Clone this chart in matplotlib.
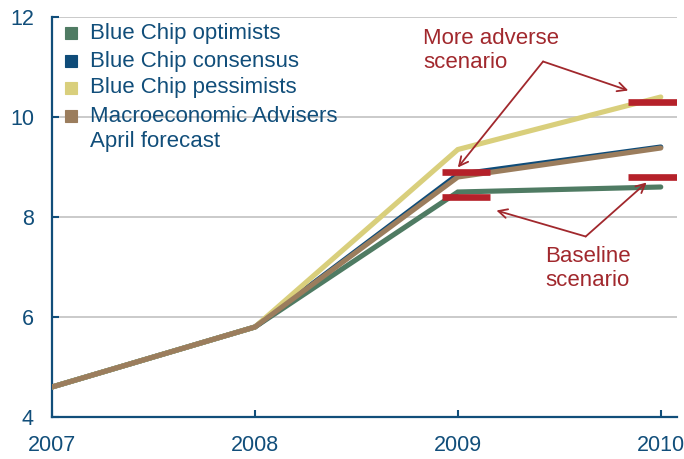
import matplotlib
matplotlib.use("Agg")
import matplotlib.pyplot as plt
from matplotlib.patches import Rectangle

plt.rcParams["font.family"] = ["Liberation Sans", "DejaVu Sans"]

# Forecast paths
years = [2007, 2008, 2009, 2010]
optimists = [4.6, 5.8, 8.5, 8.6]
consensus = [4.6, 5.8, 8.85, 9.4]
pessimists = [4.6, 5.8, 9.35, 10.4]
macro_advisers = [4.6, 5.8, 8.8, 9.38]

series_labels = ["Blue Chip optimists", "Blue Chip consensus",
                 "Blue Chip pessimists", "Macroeconomic Advisers\nApril forecast"]
series_values = [optimists, consensus, pessimists, macro_advisers]
series_colors = ["#4f7b63", "#0f4c79", "#d9cf7c", "#9b7d5d"]

# Scenario levels (bar start on the x axis, level)
baseline_x = [2008.92, 2009.84]
baseline_y = [8.4, 8.8]
adverse_x = [2008.92, 2009.84]
adverse_y = [8.9, 10.3]
bar_width = 0.24

y_ticks = [4, 6, 8, 10, 12]

navy = "#114e7a"
red = "#b5212a"
dark_red = "#a1282d"

fig = plt.figure(figsize=(6.84, 4.59), dpi=100)
ax = fig.add_axes([52 / 684, 42 / 459, 625 / 684, 400 / 459])

ax.set_xlim(2007, 2010.08)
ax.set_ylim(4, 12)
ax.set_yticks(y_ticks)
ax.set_xticks(years)
ax.set_xticklabels([str(y) for y in years])
ax.yaxis.grid(True, color="#c6c6c6", lw=1.3)
ax.set_axisbelow(True)

for side in ("top", "right"):
    ax.spines[side].set_visible(False)
for side in ("left", "bottom"):
    ax.spines[side].set_color(navy)
    ax.spines[side].set_linewidth(1.6)

ax.tick_params(axis="both", direction="in", length=5, width=1.5,
               color=navy, labelcolor=navy, labelsize=15.5)
ax.tick_params(axis="x", pad=13)
ax.tick_params(axis="y", pad=13)

for vals, col in zip(series_values, series_colors):
    ax.plot(years, vals, color=col, lw=3.7, solid_capstyle="round",
            solid_joinstyle="miter", zorder=3)

for xs, ys in ((baseline_x, baseline_y), (adverse_x, adverse_y)):
    for x0, y0 in zip(xs, ys):
        ax.plot([x0, x0 + bar_width], [y0, y0], color=red, lw=4.8,
                solid_capstyle="butt", zorder=4)

# Scenario annotations
arrow = dict(arrowstyle="->", color=dark_red, lw=1.3, mutation_scale=16,
             shrinkA=0, shrinkB=0)
ax.text(2008.83, 11.33, "More adverse\nscenario", color=dark_red,
        fontsize=16, ha="left", va="center", linespacing=1.15)
ax.annotate("", xy=(2009.0, 8.99), xytext=(2009.42, 11.11), arrowprops=arrow)
ax.annotate("", xy=(2009.84, 10.53), xytext=(2009.42, 11.11), arrowprops=arrow)

ax.text(2009.43, 6.97, "Baseline\nscenario", color=dark_red,
        fontsize=16, ha="left", va="center", linespacing=1.15)
ax.annotate("", xy=(2009.19, 8.13), xytext=(2009.63, 7.61), arrowprops=arrow)
ax.annotate("", xy=(2009.93, 8.69), xytext=(2009.63, 7.61), arrowprops=arrow)

# Legend
row_y = [33, 61, 88, 116]
line_gap = 26
for ypx, lab, col in zip(row_y, series_labels, series_colors):
    fig.patches.append(Rectangle(((65) / 684, 1 - (ypx + 6) / 459), 12 / 684, 12 / 459,
                                 transform=fig.transFigure, facecolor=col,
                                 edgecolor=col, lw=0.8))
    for i, part in enumerate(lab.split("\n")):
        fig.text(90 / 684, 1 - (ypx + i * line_gap) / 459, part, color=navy,
                 fontsize=16, ha="left", va="center")

fig.savefig("out.png", dpi=100)
